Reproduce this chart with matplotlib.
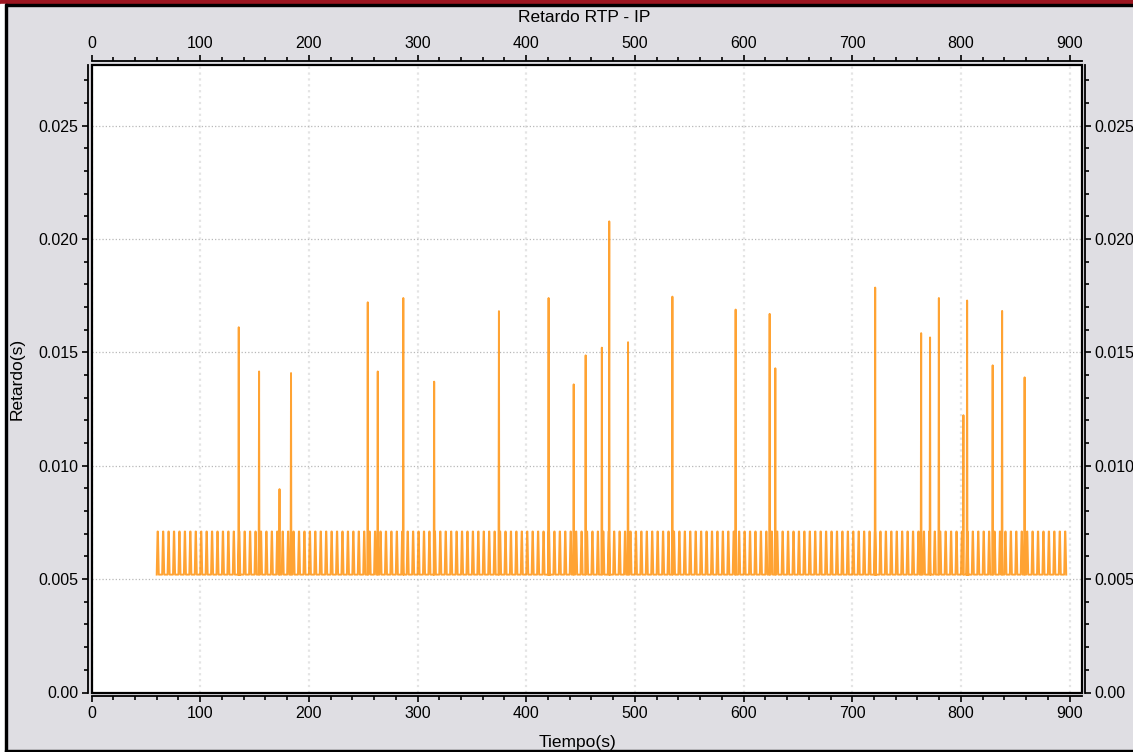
import matplotlib
matplotlib.use("Agg")
import matplotlib.pyplot as plt
from matplotlib.patches import Rectangle
from matplotlib.ticker import FixedLocator, FuncFormatter, MultipleLocator

plt.rcParams["font.family"] = ["Liberation Sans", "DejaVu Sans"]

# RTP delay over time: steady two-level pattern plus isolated delay spikes
BASE_LOW = 0.0052
BASE_HIGH = 0.0071
PULSE_FIRST = 60.0
PULSE_LAST = 895.0
PULSE_PERIOD = 5.0

spike_times = [135.1, 153.8, 172.6, 183.2, 253.8, 263.0, 286.5, 314.9, 374.5,
               420.2, 443.3, 454.3, 469.2, 476.0, 493.3, 534.1, 592.3, 623.6,
               628.8, 720.7, 763.0, 771.2, 779.3, 801.9, 805.3, 828.8, 837.5,
               858.2]
spike_values = [0.01611, 0.01416, 0.00897, 0.01409, 0.01721, 0.01416, 0.01740,
                0.01371, 0.01682, 0.01740, 0.01359, 0.01487, 0.01521, 0.02078,
                0.01545, 0.01746, 0.01689, 0.01670, 0.01430, 0.01786, 0.01585,
                0.01566, 0.01740, 0.01223, 0.01729, 0.01443, 0.01683, 0.01390]

x_ticks = [0, 100, 200, 300, 400, 500, 600, 700, 800, 900]
y_ticks = [0.0, 0.005, 0.010, 0.015, 0.020, 0.025]
y_tick_labels = ["0.00", "0.005", "0.010", "0.015", "0.020", "0.025"]

TITLE = "Retardo RTP - IP"
X_LABEL = "Tiempo(s)"
Y_LABEL = "Retardo(s)"


def build_series():
    """Expands pulse and spike events into a connected delay trace."""
    events = []
    t = PULSE_FIRST
    while t <= PULSE_LAST + 1e-9:
        events.append((t, BASE_HIGH, 0.8, 0.3))
        t += PULSE_PERIOD
    for st, sv in zip(spike_times, spike_values):
        events.append((st, sv, 0.3, 0.1))
    events.sort(key=lambda e: e[0])

    xs, ys = [], []
    for t, v, rise, hold in events:
        xs += [t, t + rise, t + rise + hold, t + 2 * rise + hold]
        ys += [BASE_LOW, v, v, BASE_LOW]
    return xs, ys


def main():
    xs, ys = build_series()

    fig = plt.figure(figsize=(11.33, 7.52), dpi=100, facecolor="#dfdee3")
    W, H = 1133.0, 752.0

    # window chrome: red strip, black frame lines, white left margin
    fig.patches.append(Rectangle((0, 1 - 4 / H), 1, 4 / H, transform=fig.transFigure,
                                 color="#9c1620", zorder=0))
    fig.patches.append(Rectangle((5 / W, 1 - 6 / H), 1 - 5 / W, 2 / H, transform=fig.transFigure,
                                 color="black", zorder=0))
    fig.patches.append(Rectangle((0, 0), 5 / W, 1 - 4 / H, transform=fig.transFigure,
                                 color="white", zorder=0))
    fig.patches.append(Rectangle((5 / W, 0), 2 / W, 1 - 4 / H, transform=fig.transFigure,
                                 color="black", zorder=0))
    fig.patches.append(Rectangle((5 / W, 0), 1 - 5 / W, 2 / H, transform=fig.transFigure,
                                 color="black", zorder=0))

    ax = fig.add_axes([91.5 / W, 1 - 692.5 / H, (1082 - 91.5) / W, (692.5 - 64.5) / H])
    ax.set_facecolor("white")

    ax.plot(xs, ys, color="#ff8c00", lw=1.4, alpha=0.8)

    ax.set_xlim(0, 911.4)
    ax.set_ylim(0, 0.0277)

    ax.xaxis.set_major_locator(FixedLocator(x_ticks))
    ax.xaxis.set_minor_locator(MultipleLocator(20))
    ax.yaxis.set_major_locator(FixedLocator(y_ticks))
    ax.yaxis.set_minor_locator(MultipleLocator(0.001))
    ax.yaxis.set_major_formatter(FuncFormatter(lambda v, p: y_tick_labels[p] if p is not None and p < len(y_tick_labels) else ""))

    ax.tick_params(which="both", direction="out", top=True, right=True,
                   labeltop=True, labelright=True, width=1.2, colors="black")
    ax.tick_params(which="major", length=4.5, pad=2.5, labelsize=11.5)
    ax.tick_params(axis="x", which="major", pad=3.2)
    ax.tick_params(which="minor", length=2.8)

    for side in ["left", "right", "top", "bottom"]:
        ax.spines[side].set_position(("outward", 2.2))
        ax.spines[side].set_linewidth(1.3)
    ax.add_patch(Rectangle((0, 0), 1, 1, transform=ax.transAxes, fill=False,
                           ec="black", lw=1.6, clip_on=False, zorder=5))

    ax.grid(True, axis="x", which="major", color="#e4e4e4", lw=1.6, ls=":")
    ax.grid(True, axis="y", which="major", color="#b8b8b8", lw=0.9, ls=":")
    ax.set_axisbelow(True)

    fig.text(0.5155, 1 - 17 / H, TITLE, ha="center", va="center", fontsize=12.5)
    fig.text(0.510, 1 - 742 / H, X_LABEL, ha="center", va="center", fontsize=12.5)
    fig.text(17 / W, 1 - 379 / H, Y_LABEL, ha="center", va="center", rotation=90, fontsize=12.5)

    fig.savefig("out.png", dpi=100, facecolor=fig.get_facecolor())


if __name__ == "__main__":
    main()
